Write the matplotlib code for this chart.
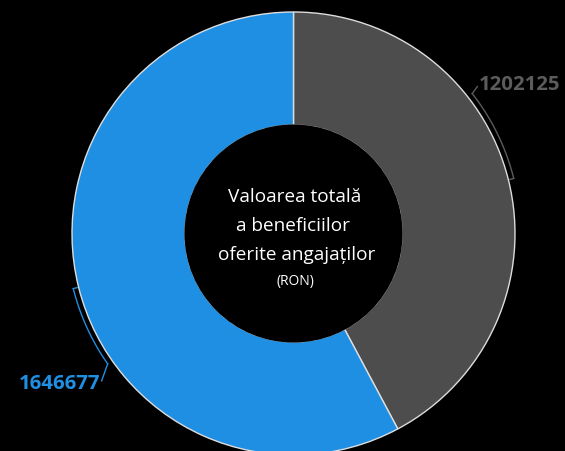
import numpy as np
import matplotlib
matplotlib.use("Agg")
import matplotlib.pyplot as plt
from matplotlib.patches import Circle

labels = ["1202125", "1646677"]
values = [1202125, 1646677]
colors = ["#4d4d4d", "#1e8fe3"]
label_colors = ["#5c5c5c", "#1e8fe3"]
center_lines = ["Valoarea totală", "a beneficiilor", "oferite angajaților"]
unit = "(RON)"

W, H = 565, 451
fig = plt.figure(figsize=(W / 100, H / 100), dpi=100, facecolor="black")
ax = fig.add_axes([0, 0, 1, 1])
ax.set_facecolor("black")

cx, cy = 293.5, H - 233.5
r_out, r_in = 221.5, 108.5

ax.pie(values, colors=colors, startangle=90, counterclock=False,
       radius=r_out, center=(cx, cy), frame=True,
       wedgeprops=dict(width=r_out - r_in, edgecolor="#dddddd", linewidth=1))
# hide the stroke on the inner edge of the ring
ax.add_patch(Circle((cx, cy), r_in + 0.6, facecolor="black", edgecolor="none", zorder=3))
ax.set_xlim(0, W)
ax.set_ylim(0, H)
ax.set_aspect("equal")
ax.axis("off")

# bracket leaders: from the slice middle, running back toward the label
total = sum(values)
start = 0.0
r_br = 227
spans = [24, 21]
for i, v in enumerate(values):
    frac = v / total
    mid = start + frac * 360 / 2          # clockwise from top, degrees
    end = mid - spans[i]
    a = np.radians(np.linspace(mid, end, 60))
    xs = cx + r_br * np.sin(a)
    ys = cy + r_br * np.cos(a)
    am = np.radians(mid)
    ax.plot([cx + (r_br - 4) * np.sin(am), xs[0]],
            [cy + (r_br - 4) * np.cos(am), ys[0]],
            color=label_colors[i], lw=1)
    ax.plot(xs, ys, color=label_colors[i], lw=1)
    if i == 0:
        lx, ly = xs[-1] + 5, ys[-1] + 7
        ax.plot([xs[-1], lx], [ys[-1], ly], color=label_colors[i], lw=1)
        ax.text(lx + 2, ly + 2, labels[i], color=label_colors[i], fontsize=14.7,
                fontweight="bold", family="Open Sans", ha="left", va="center")
    else:
        lx, ly = xs[-1] - 6, ys[-1] - 17
        ax.plot([xs[-1], lx], [ys[-1], ly], color=label_colors[i], lw=1)
        ax.text(lx - 1, ly - 3, labels[i], color=label_colors[i], fontsize=14.7,
                fontweight="bold", family="Open Sans", ha="right", va="center")
    start += frac * 360

ys_txt = [197, 226, 255]
x_shift = [1, 0, 3]
for line, y, dx in zip(center_lines, ys_txt, x_shift):
    ax.text(cx + dx, H - y, line, color="white", fontsize=13.7, family="Open Sans",
            ha="center", va="center", zorder=4)
ax.text(cx + 2, H - 281, unit, color="white", fontsize=10, family="Open Sans",
        ha="center", va="center", zorder=4)

fig.savefig("out.png", dpi=100, facecolor="black")
